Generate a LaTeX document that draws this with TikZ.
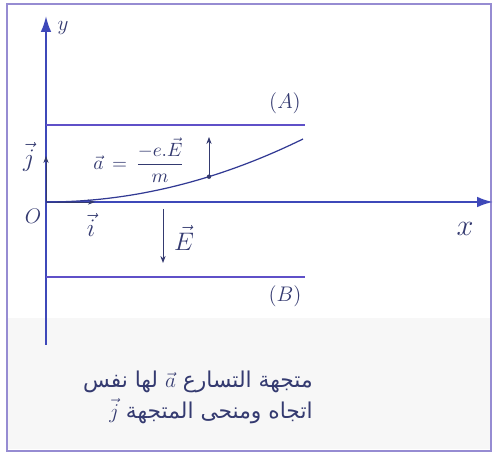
\documentclass[tikz,border=0pt]{standalone}
\usepackage{amsmath}
\usepackage{fontspec}
\newfontfamily\arabicfont[Script=Arabic]{DejaVu Sans}
\TeXXeTstate=1
\usetikzlibrary{arrows.meta}
\definecolor{axisblue}{RGB}{62,72,185}
\definecolor{plateblue}{RGB}{95,80,200}
\definecolor{inkblue}{RGB}{52,58,112}
\definecolor{framecol}{RGB}{150,140,210}
\tikzset{
  axis/.style={axisblue,line width=1.1pt,-{Latex[length=9pt,width=6pt]}},
  plate/.style={plateblue,line width=1pt},
  smallvec/.style={inkblue,line width=0.5pt,-{Stealth[length=4pt,width=3pt]}},
  lbl/.style={inkblue,inner sep=0pt}
}
\begin{document}
\begin{tikzpicture}[x=0.02cm,y=-0.02cm]
\useasboundingbox (0,0) rectangle (494,455);
\fill[black!3] (8,318) rectangle (490,449);
\draw[framecol,line width=0.8pt] (7,4) rectangle (491,451);
\coordinate (O) at (46,202);
\coordinate (xend) at (493,202);
\coordinate (ybot) at (46,345);
\coordinate (yend) at (46,16);
\draw[axis] (O) -- (xend);
\draw[axis] (ybot) -- (yend);
\node[lbl] (ylab) at (63,28) {\fontsize{13}{15}\selectfont$y$};
\node[lbl] (xlab) at (465,229) {\fontsize{17}{20}\selectfont$x$};
\node[lbl] (olab) at (33,216) {\fontsize{12}{14}\selectfont$O$};
\coordinate (A1) at (46,125);
\coordinate (A2) at (305,125);
\coordinate (B1) at (46,277);
\coordinate (B2) at (305,277);
\draw[plate] (A1) -- (A2);
\draw[plate] (B1) -- (B2);
\node[lbl] (alab) at (285,103) {\fontsize{12}{14}\selectfont$(A)$};
\node[lbl] (blab) at (285,296) {\fontsize{12}{14}\selectfont$(B)$};
\coordinate (jtip) at (46,156);
\coordinate (itip) at (95,202);
\draw[smallvec] (O) -- (jtip);
\draw[smallvec] (O) -- (itip);
\node[lbl] (jlab) at (29,157) {\fontsize{14}{16}\selectfont$\vec{j}$};
\node[lbl] (ilab) at (91,225) {\fontsize{14}{16}\selectfont$\vec{i}$};
\coordinate (Etop) at (163,209);
\coordinate (Ebot) at (163,263);
\draw[smallvec] (Etop) -- (Ebot);
\node[lbl] (Elab) at (184,238) {\fontsize{14}{16}\selectfont$\vec{E}$};
\coordinate (cend) at (303,139);
\draw[axisblue!80!black,line width=0.7pt] (O) .. controls (131.7,202) and (217.3,181) .. (cend);
\coordinate (P) at (209,176.7);
\coordinate (Ptip) at (209,137);
\fill[inkblue] (P) circle (2.2);
\draw[smallvec] (P) -- (Ptip);
\node[lbl] (acc) at (139,160) {\fontsize{11}{13}\selectfont$\vec{a}\,=\,\dfrac{-e.\vec{E}}{m}$};
\node[lbl,anchor=east] (txt1) at (313,382) {\arabicfont\fontsize{12.4}{15}\selectfont\beginR متجهة التسارع \hbox{\beginL$\vec{a}$\endL} لها نفس\endR};
\node[lbl,anchor=east] (txt2) at (313,411) {\arabicfont\fontsize{12.4}{15}\selectfont\beginR اتجاه ومنحى المتجهة \hbox{\beginL$\vec{j}$\endL}\endR};
\end{tikzpicture}
\end{document}
